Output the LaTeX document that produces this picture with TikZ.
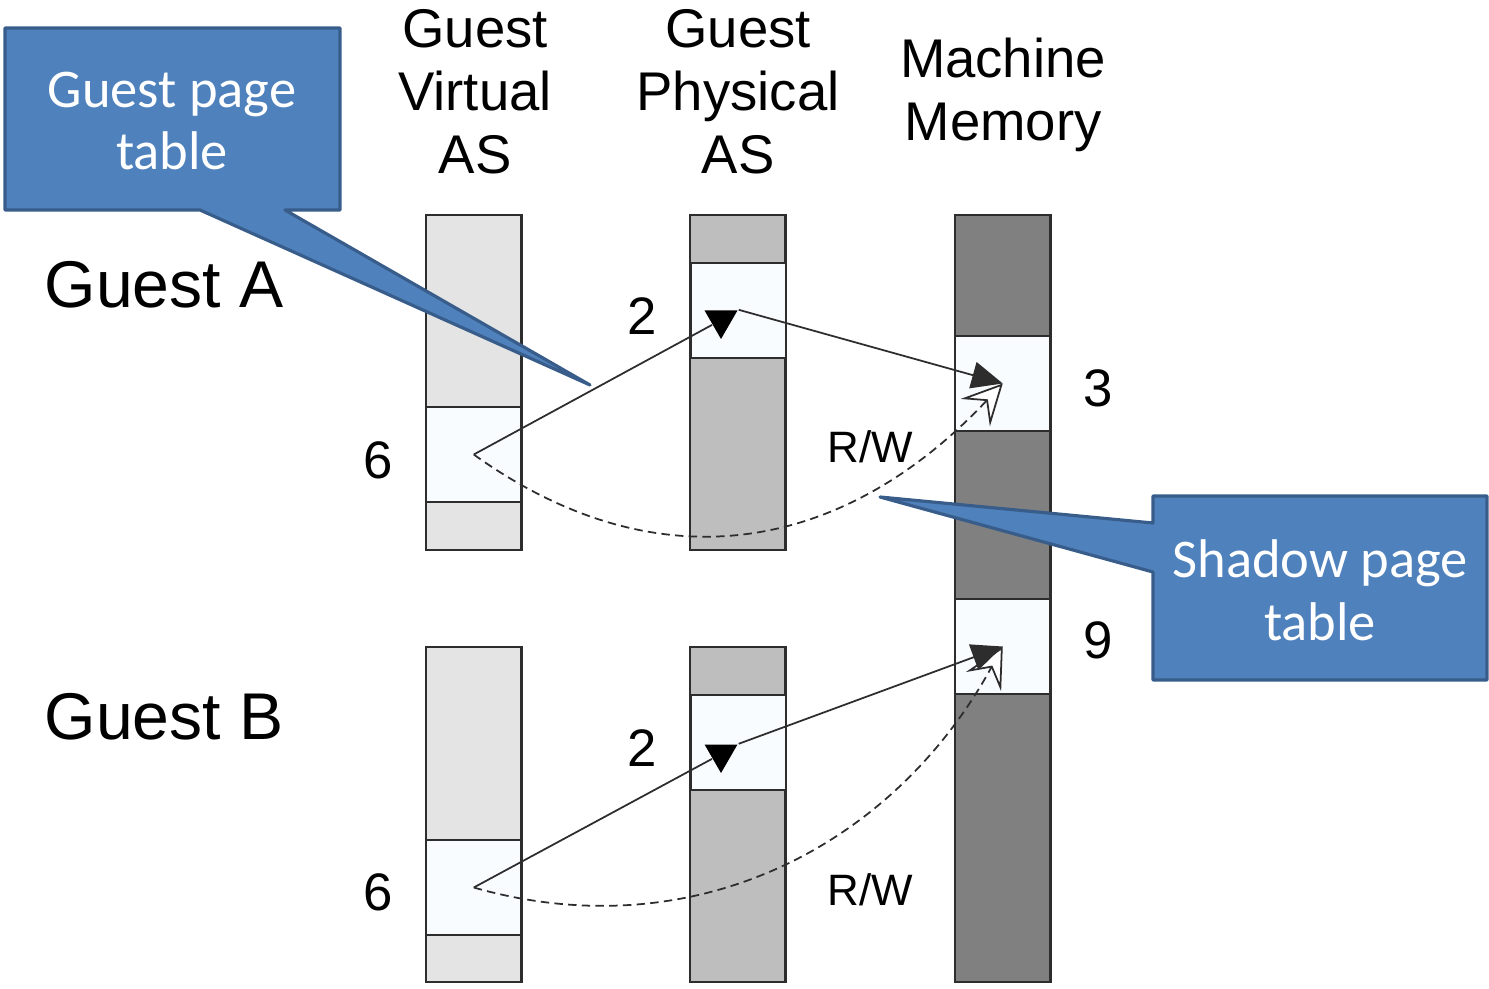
\documentclass[tikz,border=0pt]{standalone}
\usepackage{fontspec}
\setmainfont{Liberation Sans}
\newfontfamily\calloutfont{Carlito}
\usetikzlibrary{arrows.meta,shapes.geometric}

\begin{document}
\begin{tikzpicture}[x=0.01cm,y=-0.01cm,
    slot/.style={draw=edge, line width=0.6pt, fill=slotfill, minimum width=0.955cm,
      minimum height=0.95cm, inner sep=0pt},
    marker/.style={regular polygon, regular polygon sides=3, shape border rotate=180,
      fill=ink, inner sep=0pt, minimum size=3.8mm},
    link/.style={draw=edge, line width=0.5pt},
    walk/.style={draw=edge, line width=0.5pt, dash pattern=on 2.4pt off 1.5pt},
    num/.style={ink, font=\fontsize{15}{18}\selectfont},
    head/.style={ink, align=center, font=\fontsize{15.5}{17.9}\selectfont},
    callout/.style={fill=callfill, draw=calledge, line width=0.9pt, line join=round},
    calltext/.style={white, align=center, font=\calloutfont\fontsize{15.5}{17.9}\selectfont}]
  \definecolor{ink}{RGB}{0,0,0}
  \definecolor{edge}{RGB}{45,45,45}
  \definecolor{gvfill}{RGB}{228,228,228}
  \definecolor{gpfill}{RGB}{190,190,190}
  \definecolor{mmfill}{RGB}{128,128,128}
  \definecolor{slotfill}{RGB}{249,252,255}
  \definecolor{callfill}{RGB}{79,129,189}
  \definecolor{calledge}{RGB}{56,93,138}

  \useasboundingbox (0,0) rectangle (1489,988);

  % column headers
  \node[head] (gvhead) at (475,92) {Guest\\Virtual\\AS};
  \node[head] (gphead) at (738,92) {Guest\\Physical\\AS};
  \node[head] (mmhead) at (1003,95) {Machine\\Memory};

  \node[ink, anchor=west, inner sep=0pt, font=\fontsize{18.8}{22}\selectfont] (guesta) at (44,285) {Guest A};
  \node[ink, anchor=west, inner sep=0pt, font=\fontsize{18.8}{22}\selectfont] (guestb) at (44,717) {Guest B};

  % address spaces
  \foreach \x/\top/\bot/\shade in {426/215/550/gvfill, 690/215/550/gpfill,
      955/215/982/mmfill, 426/647/982/gvfill, 690/647/982/gpfill} {
    \draw[edge, line width=0.6pt, fill=\shade] (\x,\top) rectangle (\x+95.5,\bot);
  }

  \node[slot] (va) at (473.75,454.5) {};
  \node[slot] (pa) at (738.25,310.5) {};
  \node[slot] (ma) at (1002.75,383.5) {};
  \node[slot] (mb) at (1002.75,646.5) {};
  \node[slot] (vb) at (473.75,887.5) {};
  \node[slot] (pb) at (738.25,742.5) {};

  \foreach \name/\x/\y/\txt in {sixa/378/460/6, twoa/642/316/2, three/1098/388/3,
      nine/1098/640/9, sixb/378/892/6, twob/642/748/2} {
    \node[num] (\name) at (\x,\y) {\txt};
  }
  \node[ink, font=\fontsize{12.5}{15}\selectfont] (rwa) at (870,447) {R/W};
  \node[ink, font=\fontsize{12.5}{15}\selectfont] (rwb) at (870,890) {R/W};

  % shadow mappings
  \draw[walk, -{Stealth[open, fill=white, length=4mm, width=4mm, inset=1.6mm]}]
    (va.center) .. controls (660,588) and (845,551) .. (ma.center);
  \draw[walk, -{Stealth[open, fill=white, length=4mm, width=4mm, inset=1.6mm]}]
    (vb.center) .. controls (693,950) and (893,847) .. (mb.center);

  % guest mappings
  \node[marker] (ta) at (721,320) {};
  \node[marker] (tb) at (721,754) {};
  \draw[link] (va.center) -- (ta);
  \draw[link, -{Triangle[length=3.1mm, width=2.7mm]}] (ta.corner 2) -- (ma.center);
  \draw[link] (vb.center) -- (tb);
  \draw[link, -{Triangle[length=3.1mm, width=2.7mm]}] (tb.corner 2) -- (mb.center);

  % callouts
  \draw[callout] (5,28) -- (340,28) -- (340,210) -- (285,210) -- (590,385)
    -- (200,210) -- (5,210) -- cycle;
  \node[calltext] (gpt) at (172,121) {Guest page\\table};

  \draw[callout] (1153,496) -- (1487,496) -- (1487,680) -- (1153,680) -- (1153,572)
    -- (880,497) -- (1153,523) -- cycle;
  \node[calltext] (spt) at (1320,590) {Shadow page\\table};
\end{tikzpicture}
\end{document}
